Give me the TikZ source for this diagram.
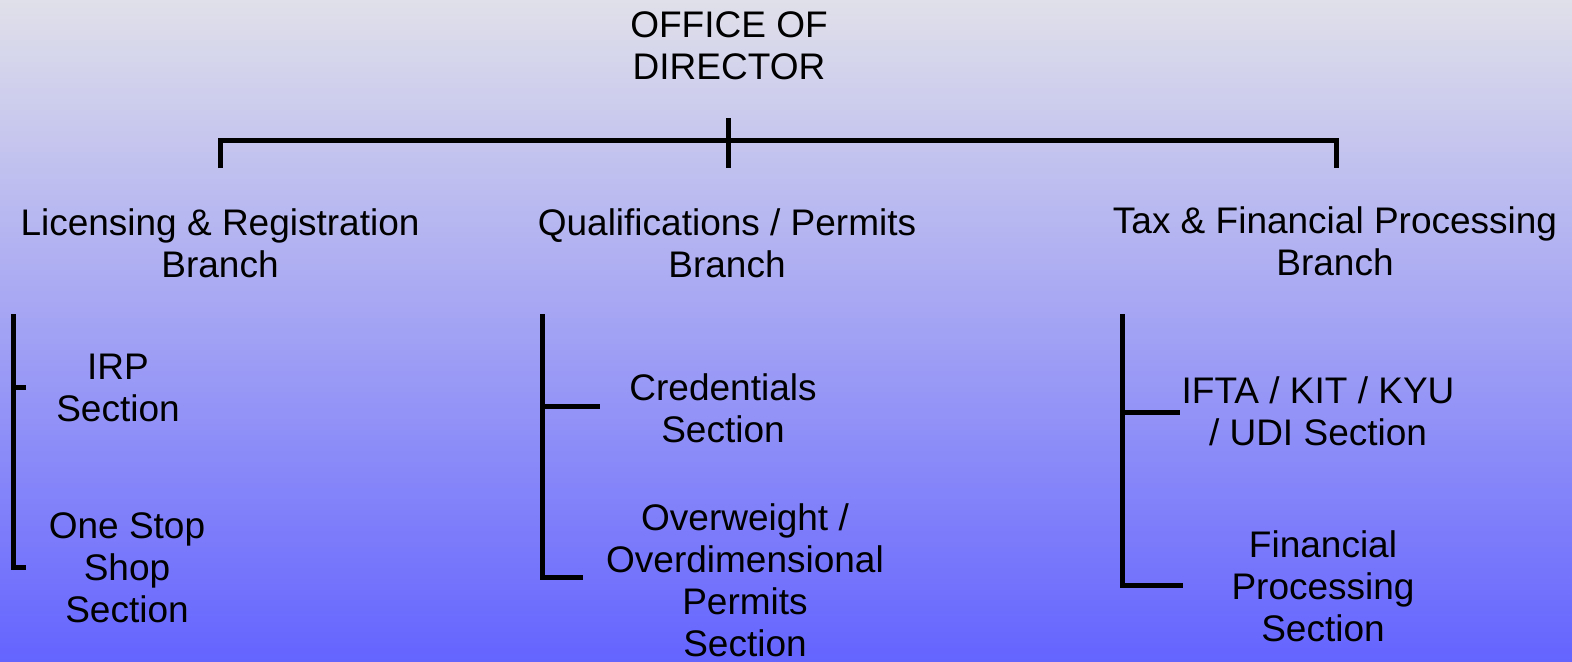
\documentclass[tikz,border=0pt]{standalone}
\usepackage{fontspec}
\setmainfont{Liberation Sans}
\definecolor{bgtop}{RGB}{224,224,234}
\definecolor{bgmid}{RGB}{178,178,226}
\definecolor{bgbot}{RGB}{100,100,255}
\begin{document}
\begin{tikzpicture}[x=0.5pt,y=-0.5pt,
  lbl/.style={align=center,inner sep=0pt,font=\fontsize{18.5}{21}\selectfont},
  bar/.style={line width=2.5pt,line cap=butt,line join=miter,black}]
\shade[top color=bgtop,middle color=bgmid,bottom color=bgbot] (0,0) rectangle (1572,661);
\useasboundingbox (0,0) rectangle (1572,661);
% titles
\node[lbl] (dir) at (729,46) {OFFICE OF\\DIRECTOR};
\node[lbl] (lr) at (220,243) {Licensing \& Registration\\Branch};
\node[lbl] (qp) at (727,243) {Qualifications / Permits\\Branch};
\node[lbl] (tf) at (1335,241) {Tax \& Financial Processing\\Branch};
\node[lbl] (irp) at (118,388) {IRP\\Section};
\node[lbl] (oss) at (127,568) {One Stop\\Shop\\Section};
\node[lbl] (cred) at (723,408) {Credentials\\Section};
\node[lbl] (ow) at (745,580) {Overweight /\\Overdimensional\\Permits\\Section};
\node[lbl] (ifta) at (1318,411) {IFTA / KIT / KYU\\/ UDI Section};
\node[lbl] (fin) at (1323,586) {Financial\\Processing\\Section};
% top bracket
\coordinate (tL) at (220,168);
\coordinate (tR) at (1336,168);
\coordinate (tCtop) at (728,118);
\coordinate (tCbot) at (728,168);
\draw[bar] (tL) |- (1336,140) -- (tR);
\draw[bar] (tCtop) -- (tCbot);
% left group
\coordinate (a1) at (13,314);
\coordinate (a2) at (26,567);
\coordinate (a3) at (26,387);
\draw[bar] (a1) |- (a2);
\draw[bar] (13,387) -- (a3);
% middle group
\coordinate (b1) at (542,314);
\coordinate (b2) at (583,577);
\coordinate (b3) at (600,406);
\draw[bar] (b1) |- (b2);
\draw[bar] (542,406) -- (b3);
% right group
\coordinate (c1) at (1122,314);
\coordinate (c2) at (1183,585);
\coordinate (c3) at (1180,412);
\draw[bar] (c1) |- (c2);
\draw[bar] (1122,412) -- (c3);
\end{tikzpicture}
\end{document}
